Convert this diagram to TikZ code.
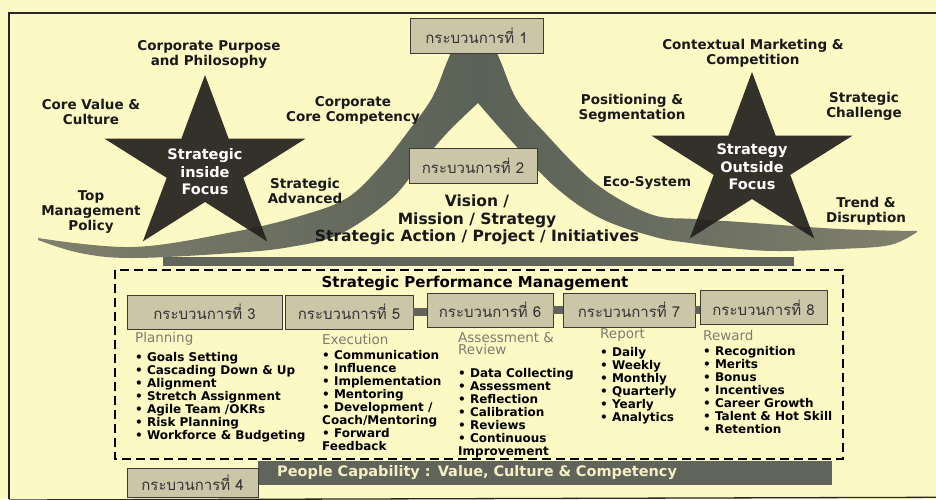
\documentclass[tikz,border=0pt]{standalone}
\usepackage{fontspec}
\setmainfont{DejaVu Sans}
\newfontfamily\thaifont[Script=Thai]{Loma}
\definecolor{paper}{RGB}{252,249,196}
\definecolor{swooshlt}{RGB}{128,128,110}
\definecolor{swooshdk}{RGB}{90,97,86}
\definecolor{starfill}{RGB}{36,32,30}
\definecolor{boxfill}{RGB}{203,198,168}
\definecolor{boxline}{RGB}{60,60,52}
\definecolor{barfill}{RGB}{96,100,90}
\definecolor{headgray}{RGB}{125,124,112}
\definecolor{bartext}{RGB}{244,240,196}
\begin{document}
\begin{tikzpicture}[x=1pt,y=-1pt,
        lbl/.style={align=center,text=black!90,font=\fontsize{13.5}{15}\selectfont\bfseries},
        startxt/.style={align=center,text=white,font=\fontsize{14.5}{17.5}\selectfont\bfseries},
        procbox/.style={draw=boxline,line width=0.9pt,fill=boxfill,minimum height=34pt,inner sep=0pt,text=black!80,font=\thaifont\fontsize{15}{15}\selectfont},
        head/.style={anchor=west,inner sep=0pt,text=headgray,font=\fontsize{13.5}{12.5}\selectfont},
        items/.style={anchor=north west,inner sep=0pt,align=left,font=\fontsize{12}{13}\selectfont\bfseries},
        link/.style={barfill,line width=8pt},
        dashbox/.style={line width=2.4pt,dash pattern=on 9pt off 5pt}]
                \useasboundingbox (0,0) rectangle (936,499);
                \fill[paper] (0,0) rectangle (936,499);
                %% frame
                \draw[line width=1.3pt,black!85] (936,13) -- (9,13) -- (9,499);
                \draw[line width=1.3pt,black!85] (9,500) -- (936,497.3);
                %% swoosh
                \shade[left color=swooshlt,right color=swooshlt,middle color=swooshdk]
                    plot[smooth,tension=0.6] coordinates {(38,238) (133,247) (233,232) (300,216) (347,198) (380,167) (407,133) (432,98) (447,62) (458,38) (474,22)}
                    -- plot[smooth,tension=0.6] coordinates {(474,22) (490,40) (500,60) (517,100) (545,133) (595,183) (650,214) (695,219) (740,222) (840,229) (917,231)}
                    -- plot[smooth,tension=0.6] coordinates {(917,232) (890,245) (840,249) (780,251) (740,249) (690,243) (655,237) (600,218) (553,185) (507,136) (478,103)}
                    -- plot[smooth,tension=0.6] coordinates {(478,103) (447,133) (418,167) (390,200) (340,234) (290,247) (233,253) (133,258) (80,253) (38,240)}
                    -- cycle;
                \fill[barfill] (163,257) rectangle (794,266);
                %% stars
                \foreach \cx/\cy in {205/167,752/164} {
                    \begin{scope}[shift={(\cx,\cy)},xscale=1.15]
                        \fill[starfill,fill opacity=0.92] (-90:92)
                            \foreach \a in {-54,18,90,162,234} { -- (\a:35) -- ({\a+36}:92) } -- cycle;
                    \end{scope}
                }
                \node[startxt] (inside) at (205,172) {Strategic\\inside\\Focus};
                \node[startxt] (outside) at (752,167) {Strategy\\Outside\\Focus};
                %% labels round the stars
                \node[lbl] (purpose) at (209,54) {Corporate Purpose\\and Philosophy};
                \node[lbl] (corevalue) at (91,112) {Core Value \&\\Culture};
                \node[lbl] (competency) at (353,110) {Corporate\\Core Competency};
                \node[lbl] (advanced) at (305,191) {Strategic\\Advanced};
                \node[lbl] (toppolicy) at (91,212) {Top\\Management\\Policy};
                \node[lbl] (contextual) at (753,53) {Contextual Marketing \&\\Competition};
                \node[lbl] (positioning) at (632,108) {Positioning \&\\Segmentation};
                \node[lbl] (challenge) at (864,106) {Strategic\\Challenge};
                \node[lbl] (ecosystem) at (647,183) {Eco-System};
                \node[lbl] (trend) at (866,211) {Trend \&\\Disruption};
                \node[lbl,font=\fontsize{15.5}{17.5}\selectfont\bfseries] (vision) at (477,220) {Vision /\\Mission / Strategy\\Strategic Action / Project / Initiatives};
                %% process boxes
                \node[procbox,minimum width=133pt,minimum height=35pt] (p1) at (476.5,35.5) {กระบวนการที่ 1};
                \node[procbox,minimum width=128pt,minimum height=35pt] (p2) at (473,165.5) {กระบวนการที่ 2};
                %% strategic performance management
                \draw[dashbox] (115,270) rectangle (843,459);
                \node[font=\fontsize{15}{15}\selectfont\bfseries] (spm) at (475,283) {Strategic Performance Management};
                \node[procbox,minimum width=155pt] (p3) at (204.5,312) {กระบวนการที่ 3};
                \node[procbox,minimum width=128pt] (p5) at (349,312) {กระบวนการที่ 5};
                \node[procbox,minimum width=126pt] (p6) at (490,310) {กระบวนการที่ 6};
                \node[procbox,minimum width=132pt] (p7) at (629,310) {กระบวนการที่ 7};
                \node[procbox,minimum width=127pt] (p8) at (763.5,307.5) {กระบวนการที่ 8};
                \draw[link] (p5.east) -- (p5.east -| p6.west);
                \draw[link] (p6.east) -- (p6.east -| p7.west);
                \draw[link] (p7.east) -- (p7.east -| p8.west);
                \node[head] (planning) at (135,339) {Planning};
                \node[head] (execution) at (322,339) {Execution};
                \node[head,anchor=north west,align=left] (assessment) at (458,332) {Assessment \&\\Review};
                \node[head] (report) at (600,335) {Report};
                \node[head] (reward) at (703,335) {Reward};
                \node[items] (planlist) at (135,352) {• Goals Setting\\• Cascading Down \& Up\\• Alignment\\• Stretch Assignment\\• Agile Team /OKRs\\• Risk Planning\\• Workforce \& Budgeting};
                \node[items] (execlist) at (322,350) {• Communication\\• Influence\\• Implementation\\• Mentoring\\• Development /\\Coach/Mentoring\\• Forward\\Feedback};
                \node[items] (assesslist) at (458,368) {• Data Collecting\\• Assessment\\• Reflection\\• Calibration\\• Reviews\\• Continuous\\Improvement};
                \node[items] (reportlist) at (600,347) {• Daily\\• Weekly\\• Monthly\\• Quarterly\\• Yearly\\• Analytics};
                \node[items] (rewardlist) at (703,346) {• Recognition\\• Merits\\• Bonus\\• Incentives\\• Career Growth\\• Talent \& Hot Skill\\• Retention};
                %% people capability
                \node[fill=barfill,minimum height=24pt,text width=536pt,inner xsep=19pt,inner ysep=0pt,align=left,anchor=west,text=bartext,font=\fontsize{14.5}{14.5}\selectfont\bfseries] (people) at (258,473) {People Capability : Value, Culture \& Competency};
                \node[procbox,minimum width=131pt,minimum height=29pt] (p4) at (192.5,482.5) {กระบวนการที่ 4};
            \end{tikzpicture}
\end{document}
